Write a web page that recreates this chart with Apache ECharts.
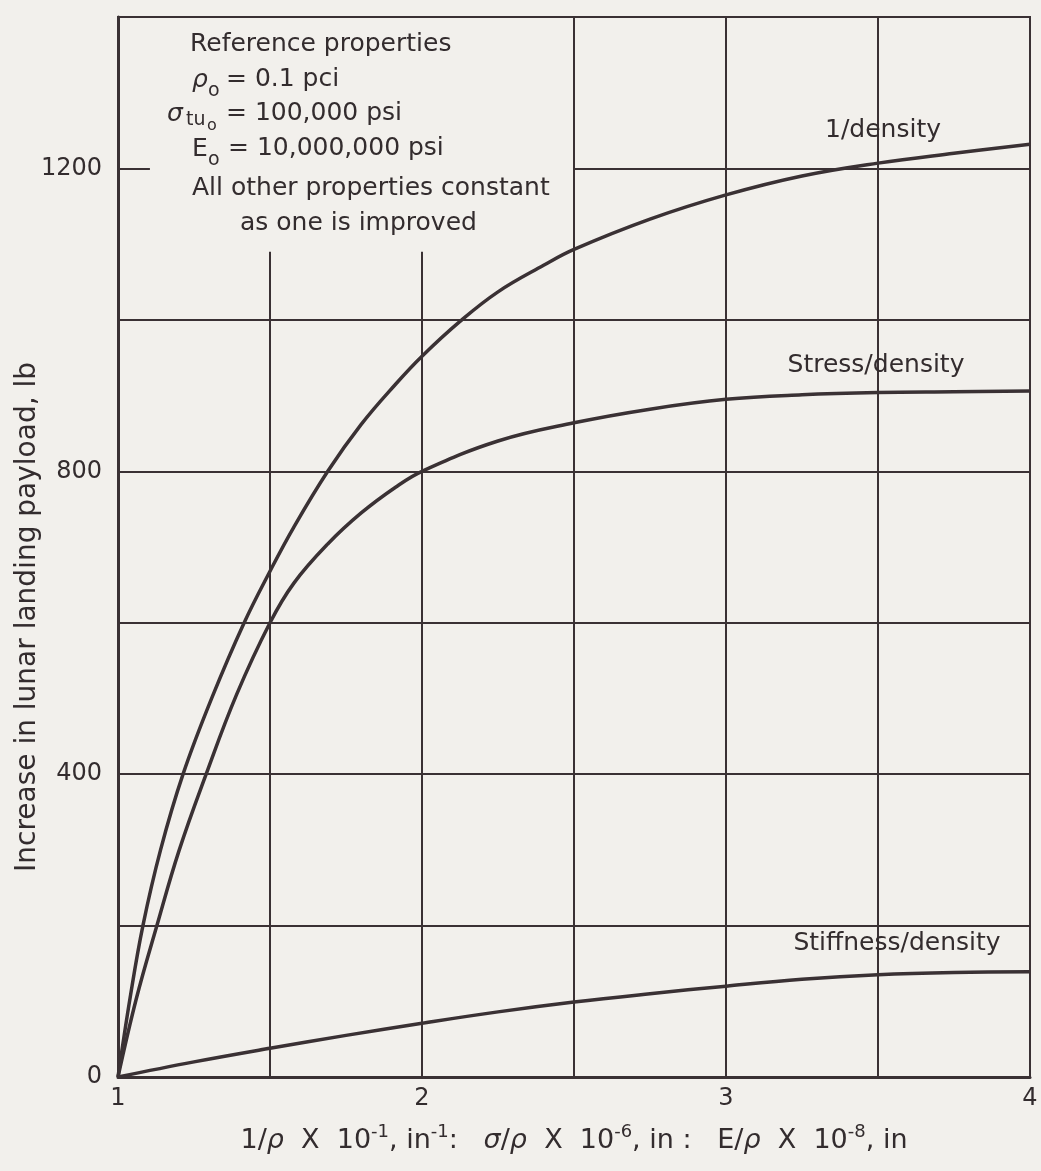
<!DOCTYPE html>
<html>
<head>
<meta charset="utf-8">
<script src="https://cdn.jsdelivr.net/npm/echarts@6/dist/echarts.min.js"></script>
<style>
  html, body { margin: 0; padding: 0; background: #f2f0ec; }
  #chart { width: 1041px; height: 1171px; }
</style>
</head>
<body>
<div id="chart"></div>
<script>
// ---- axis ranges and tick labels ----
const xMin = 1, xMax = 4, xStep = 0.5;
const yMin = 0, yMax = 1400, yStep = 200;
const xTickLabels = [1, 2, 3, 4];
const yTickLabels = [0, 400, 800, 1200];

// grid lines (in data units); some are interrupted by the note box
const xGridFull = [2.5, 3, 3.5];
const xGridBelowNote = [1.5, 2];
const noteBottomValue = 1090;
const yGridFull = [200, 400, 600, 800, 1000];
const yGridSplit = 1200;
const noteGapX = [1.105, 2.5];

// ---- series values [x, payload] ----
const curveNames = ['1/density', 'Stress/density', 'Stiffness/density'];
const invDensity = [[1,0],[1.04,105],[1.082,200],[1.14,300],[1.214,400],[1.31,502],[1.415,600],[1.5,668],[1.578,726],[1.69,800],[1.80,862],[1.913,915],[2.0,952],[2.125,998],[2.25,1037],[2.4,1072],[2.5,1093],[2.75,1133],[3.0,1165],[3.25,1190],[3.5,1207],[3.75,1220],[4.0,1232]];
const stressDensity = [[1,0],[1.06,103],[1.128,200],[1.2,298],[1.29,400],[1.39,505],[1.5,600],[1.578,652],[1.69,704],[1.80,745],[1.913,779],[2.0,800],[2.25,840],[2.5,864],[2.75,882],[3.0,895],[3.25,901],[3.5,904],[3.75,905],[4.0,906]];
const stiffDensity = [[1,0],[1.25,20],[1.5,38],[1.75,55],[2.0,71],[2.25,86],[2.5,99],[2.75,110],[3.0,120],[3.25,129],[3.5,135],[3.75,138],[4.0,139]];

const ink = '#3a3134';
const txt = '#332c2e';
const FONT = 'DejaVu Sans';

const gridSegs = [];
xGridFull.forEach(x => gridSegs.push([{coord:[x, yMin]}, {coord:[x, yMax]}]));
xGridBelowNote.forEach(x => gridSegs.push([{coord:[x, yMin]}, {coord:[x, noteBottomValue]}]));
yGridFull.forEach(y => gridSegs.push([{coord:[xMin, y]}, {coord:[xMax, y]}]));
gridSegs.push([{coord:[xMin, yGridSplit]}, {coord:[noteGapX[0], yGridSplit]}]);
gridSegs.push([{coord:[noteGapX[1], yGridSplit]}, {coord:[xMax, yGridSplit]}]);

const chart = echarts.init(document.getElementById('chart'), null, {renderer: 'canvas'});

function t(text, x, y, size, opts) {
  return Object.assign({
    type: 'text', x: x, y: y, z: 10,
    style: Object.assign({
      text: text, fill: txt, font: (opts && opts.italic ? 'italic ' : '') + size + 'px "' + FONT + '"',
      align: 'left', verticalAlign: 'middle'
    }, opts && opts.style || {})
  }, opts && opts.el || {});
}

const curveStyle = { color: ink, width: 3.5 };

const option = {
  backgroundColor: '#f2f0ec',
  animation: false,
  textStyle: { fontFamily: FONT, color: txt },
  grid: { left: 118, right: 11, top: 17, bottom: 94, show: true, borderColor: ink, borderWidth: 2, backgroundColor: 'transparent' },
  xAxis: {
    type: 'value', min: xMin, max: xMax, interval: xStep,
    axisLine: { show: true, lineStyle: { color: ink, width: 3 } },
    axisTick: { show: false },
    splitLine: { show: false },
    axisLabel: {
      margin: 10, fontSize: 24, color: txt, fontFamily: FONT,
      formatter: v => xTickLabels.indexOf(v) >= 0 ? String(v) : ''
    },
    name: '{n|1/}{i|ρ}{n|  X  10}{s|-1}{n|, in}{s|-1}{n|:   }{i|σ}{n|/}{i|ρ}{n|  X  10}{s|-6}{n|, in :   E/}{i|ρ}{n|  X  10}{s|-8}{n|, in}',
    nameLocation: 'middle', nameGap: 46,
    nameTextStyle: {
      rich: {
        n: { fontSize: 27, fontFamily: FONT, color: txt, lineHeight: 36, verticalAlign: 'middle' },
        i: { fontSize: 27, fontFamily: FONT, fontStyle: 'italic', color: txt, lineHeight: 36, verticalAlign: 'middle' },
        s: { fontSize: 18, fontFamily: FONT, color: txt, lineHeight: 36, verticalAlign: 'top' }
      }
    }
  },
  yAxis: {
    type: 'value', min: yMin, max: yMax, interval: yStep,
    axisLine: { show: true, lineStyle: { color: ink, width: 3 } },
    axisTick: { show: false },
    splitLine: { show: false },
    axisLabel: {
      margin: 16, fontSize: 24, color: txt, fontFamily: FONT,
      formatter: v => yTickLabels.indexOf(v) >= 0 ? String(v) : ''
    }
  },
  graphic: [
    t('Increase in lunar landing payload, lb', 28, 617, 28, { style: { align: 'center' }, el: { rotation: Math.PI / 2 } }),
    t('Reference properties', 190, 44, 25),
    t('ρ', 192, 80, 25, { italic: true }),
    t('o', 208, 91, 19),
    t('= 0.1 pci', 226, 79, 25),
    t('σ', 167, 114, 25, { italic: true }),
    t('tu', 186, 120, 19),
    t('o', 207, 126, 16),
    t('= 100,000 psi', 226, 113, 25),
    t('E', 192, 149, 25),
    t('o', 208, 160, 19),
    t('= 10,000,000 psi', 228, 148, 25),
    t('All other properties constant', 192, 188, 25),
    t('as one is improved', 240, 223, 25),
    t(curveNames[0], 883, 130, 25, { style: { align: 'center' } }),
    t(curveNames[1], 876, 365, 25, { style: { align: 'center' } }),
    t(curveNames[2], 897, 943, 25, { style: { align: 'center' } })
  ],
  series: [
    {
      type: 'line', name: 'grid', data: [], z: 1, silent: true,
      markLine: {
        silent: true, symbol: ['none', 'none'], animation: false,
        label: { show: false },
        lineStyle: { color: ink, width: 2, type: 'solid' },
        emphasis: { disabled: true },
        data: gridSegs
      }
    },
    { type: 'line', name: curveNames[0], data: invDensity, smooth: 0.4, showSymbol: false, z: 3, lineStyle: curveStyle },
    { type: 'line', name: curveNames[1], data: stressDensity, smooth: 0.4, showSymbol: false, z: 3, lineStyle: curveStyle },
    { type: 'line', name: curveNames[2], data: stiffDensity, smooth: 0.4, showSymbol: false, z: 3, lineStyle: curveStyle }
  ]
};
chart.setOption(option);
</script>
</body>
</html>
